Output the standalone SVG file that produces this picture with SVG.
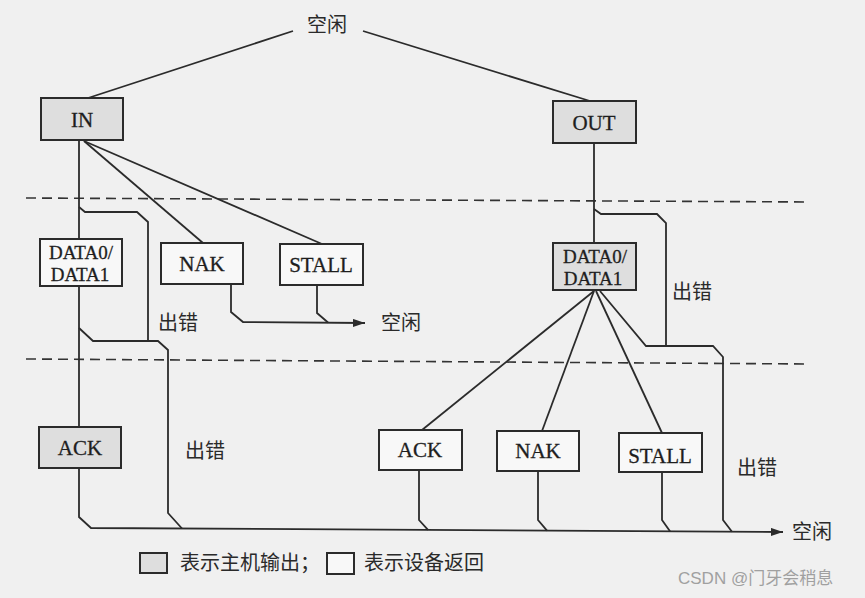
<svg xmlns="http://www.w3.org/2000/svg" width="865" height="598" viewBox="0 0 865 598">
  <style>
    .bg { fill: #f0f0f0; }
    .host { fill: #dedede; stroke: #2b2b2b; stroke-width: 2; }
    .dev { fill: #f8f8f8; stroke: #2b2b2b; stroke-width: 2; }
    .lbl { font-family: "Liberation Serif", "Times New Roman", serif; font-size: 21px; fill: #1e1e1e; text-anchor: middle; stroke: #1e1e1e; stroke-width: 0.3; }
    .sm { font-size: 19px; }
    .cn { font-family: "Noto Sans CJK SC", sans-serif; font-size: 20px; fill: #2a2a2a; }
    .wire { fill: none; stroke: #2b2b2b; stroke-width: 1.8; stroke-linejoin: miter; }
    .dash { fill: none; stroke: #333; stroke-width: 1.6; stroke-dasharray: 10 6; }
    .wm { font-family: "Liberation Sans", Arial, "Noto Sans CJK SC", sans-serif; font-size: 17px; fill: #a0a0a0; }
  </style>
  <defs>
    <marker id="arr" viewBox="0 0 12 8" refX="12" refY="4" markerWidth="12" markerHeight="8" markerUnits="userSpaceOnUse" orient="auto">
      <path d="M0,0 L12,4 L0,8 Z" fill="#2b2b2b"/>
    </marker>
  </defs>
  <rect class="bg" x="0" y="0" width="865" height="598"/>

  <g id="phase-lines">
    <line class="dash" x1="26" y1="198" x2="810" y2="202"/>
    <line class="dash" x1="26" y1="359" x2="810" y2="364"/>
  </g>

  <g id="connectors">
    <line class="wire" x1="293" y1="31" x2="85" y2="99"/>
    <line class="wire" x1="363" y1="31" x2="590" y2="101"/>
    <line class="wire" x1="79" y1="140" x2="79" y2="239"/>
    <line class="wire" x1="84" y1="141" x2="203" y2="243"/>
    <line class="wire" x1="84" y1="141" x2="322" y2="244"/>
    <path class="wire" d="M79,207 L85,212 L137,212 L148,222 L148,341"/>
    <line class="wire" x1="79" y1="286" x2="79" y2="427"/>
    <path class="wire" d="M79,328 L93,341 L158,341 L168,350 L168,513 L182,528.5"/>
    <path class="wire" d="M231,284 L231,312 L243,322 L365,323" marker-end="url(#arr)"/>
    <path class="wire" d="M317,285 L317,313 L328,322.5"/>
    <path class="wire" d="M79,468 L79,517 L91,528 L783,532" marker-end="url(#arr)"/>
    <line class="wire" x1="594" y1="143" x2="594" y2="243"/>
    <path class="wire" d="M594,209 L601,214 L657,214 L666,223 L666,346"/>
    <line class="wire" x1="594" y1="291" x2="422" y2="430"/>
    <line class="wire" x1="594" y1="291" x2="542" y2="431"/>
    <line class="wire" x1="596" y1="291" x2="662" y2="433"/>
    <path class="wire" d="M600,291 L646,346 L713,346 L723,357 L723,520 L732,531.7"/>
    <path class="wire" d="M419,470 L419,520 L428,529.9"/>
    <path class="wire" d="M538,471 L538,520 L547,530.6"/>
    <path class="wire" d="M662,472 L662,520 L670,531.3"/>
  </g>

  <g id="idle-top"><text class="cn" x="307" y="32">空闲</text></g>
  <g id="idle-mid"><text class="cn" x="381" y="330">空闲</text></g>
  <g id="idle-bottom"><text class="cn" x="792" y="539">空闲</text></g>

  <g id="in"><rect class="host" x="41" y="98" width="82" height="42"/><text class="lbl" x="82" y="127">IN</text></g>
  <g id="out"><rect class="host" x="553" y="101" width="83" height="42"/><text class="lbl" x="594" y="130">OUT</text></g>

  <g id="in-data"><rect class="dev" x="40" y="239" width="82" height="47"/><text class="lbl sm" x="81" y="259">DATA0/</text><text class="lbl sm" x="80" y="281">DATA1</text></g>
  <g id="in-nak"><rect class="dev" x="161" y="243" width="82" height="41"/><text class="lbl" x="202" y="271">NAK</text></g>
  <g id="in-stall"><rect class="dev" x="280" y="244" width="83" height="41"/><text class="lbl" x="321" y="272">STALL</text></g>
  <g id="in-ack"><rect class="host" x="39" y="427" width="82" height="41"/><text class="lbl" x="80" y="455">ACK</text></g>

  <g id="out-data"><rect class="host" x="553" y="243" width="83" height="47"/><text class="lbl sm" x="595" y="263">DATA0/</text><text class="lbl sm" x="593" y="285">DATA1</text></g>
  <g id="out-ack"><rect class="dev" x="379" y="430" width="83" height="40"/><text class="lbl" x="420" y="457">ACK</text></g>
  <g id="out-nak"><rect class="dev" x="497" y="431" width="82" height="40"/><text class="lbl" x="538" y="458">NAK</text></g>
  <g id="out-stall"><rect class="dev" x="619" y="433" width="83" height="39"/><text class="lbl" x="660" y="463">STALL</text></g>

  <g id="err-labels">
    <text class="cn" x="158" y="330">出错</text>
    <text class="cn" x="185" y="458">出错</text>
    <text class="cn" x="672" y="299">出错</text>
    <text class="cn" x="737" y="475">出错</text>
  </g>

  <g id="legend">
    <rect class="host" x="140" y="553" width="27" height="20"/>
    <text class="cn" x="180" y="570">表示主机输出；</text>
    <rect class="dev" x="327" y="553" width="27" height="21"/>
    <text class="cn" x="364" y="570">表示设备返回</text>
  </g>

  <g id="watermark"><text class="wm" x="678" y="584">CSDN @门牙会稍息</text></g>
</svg>
